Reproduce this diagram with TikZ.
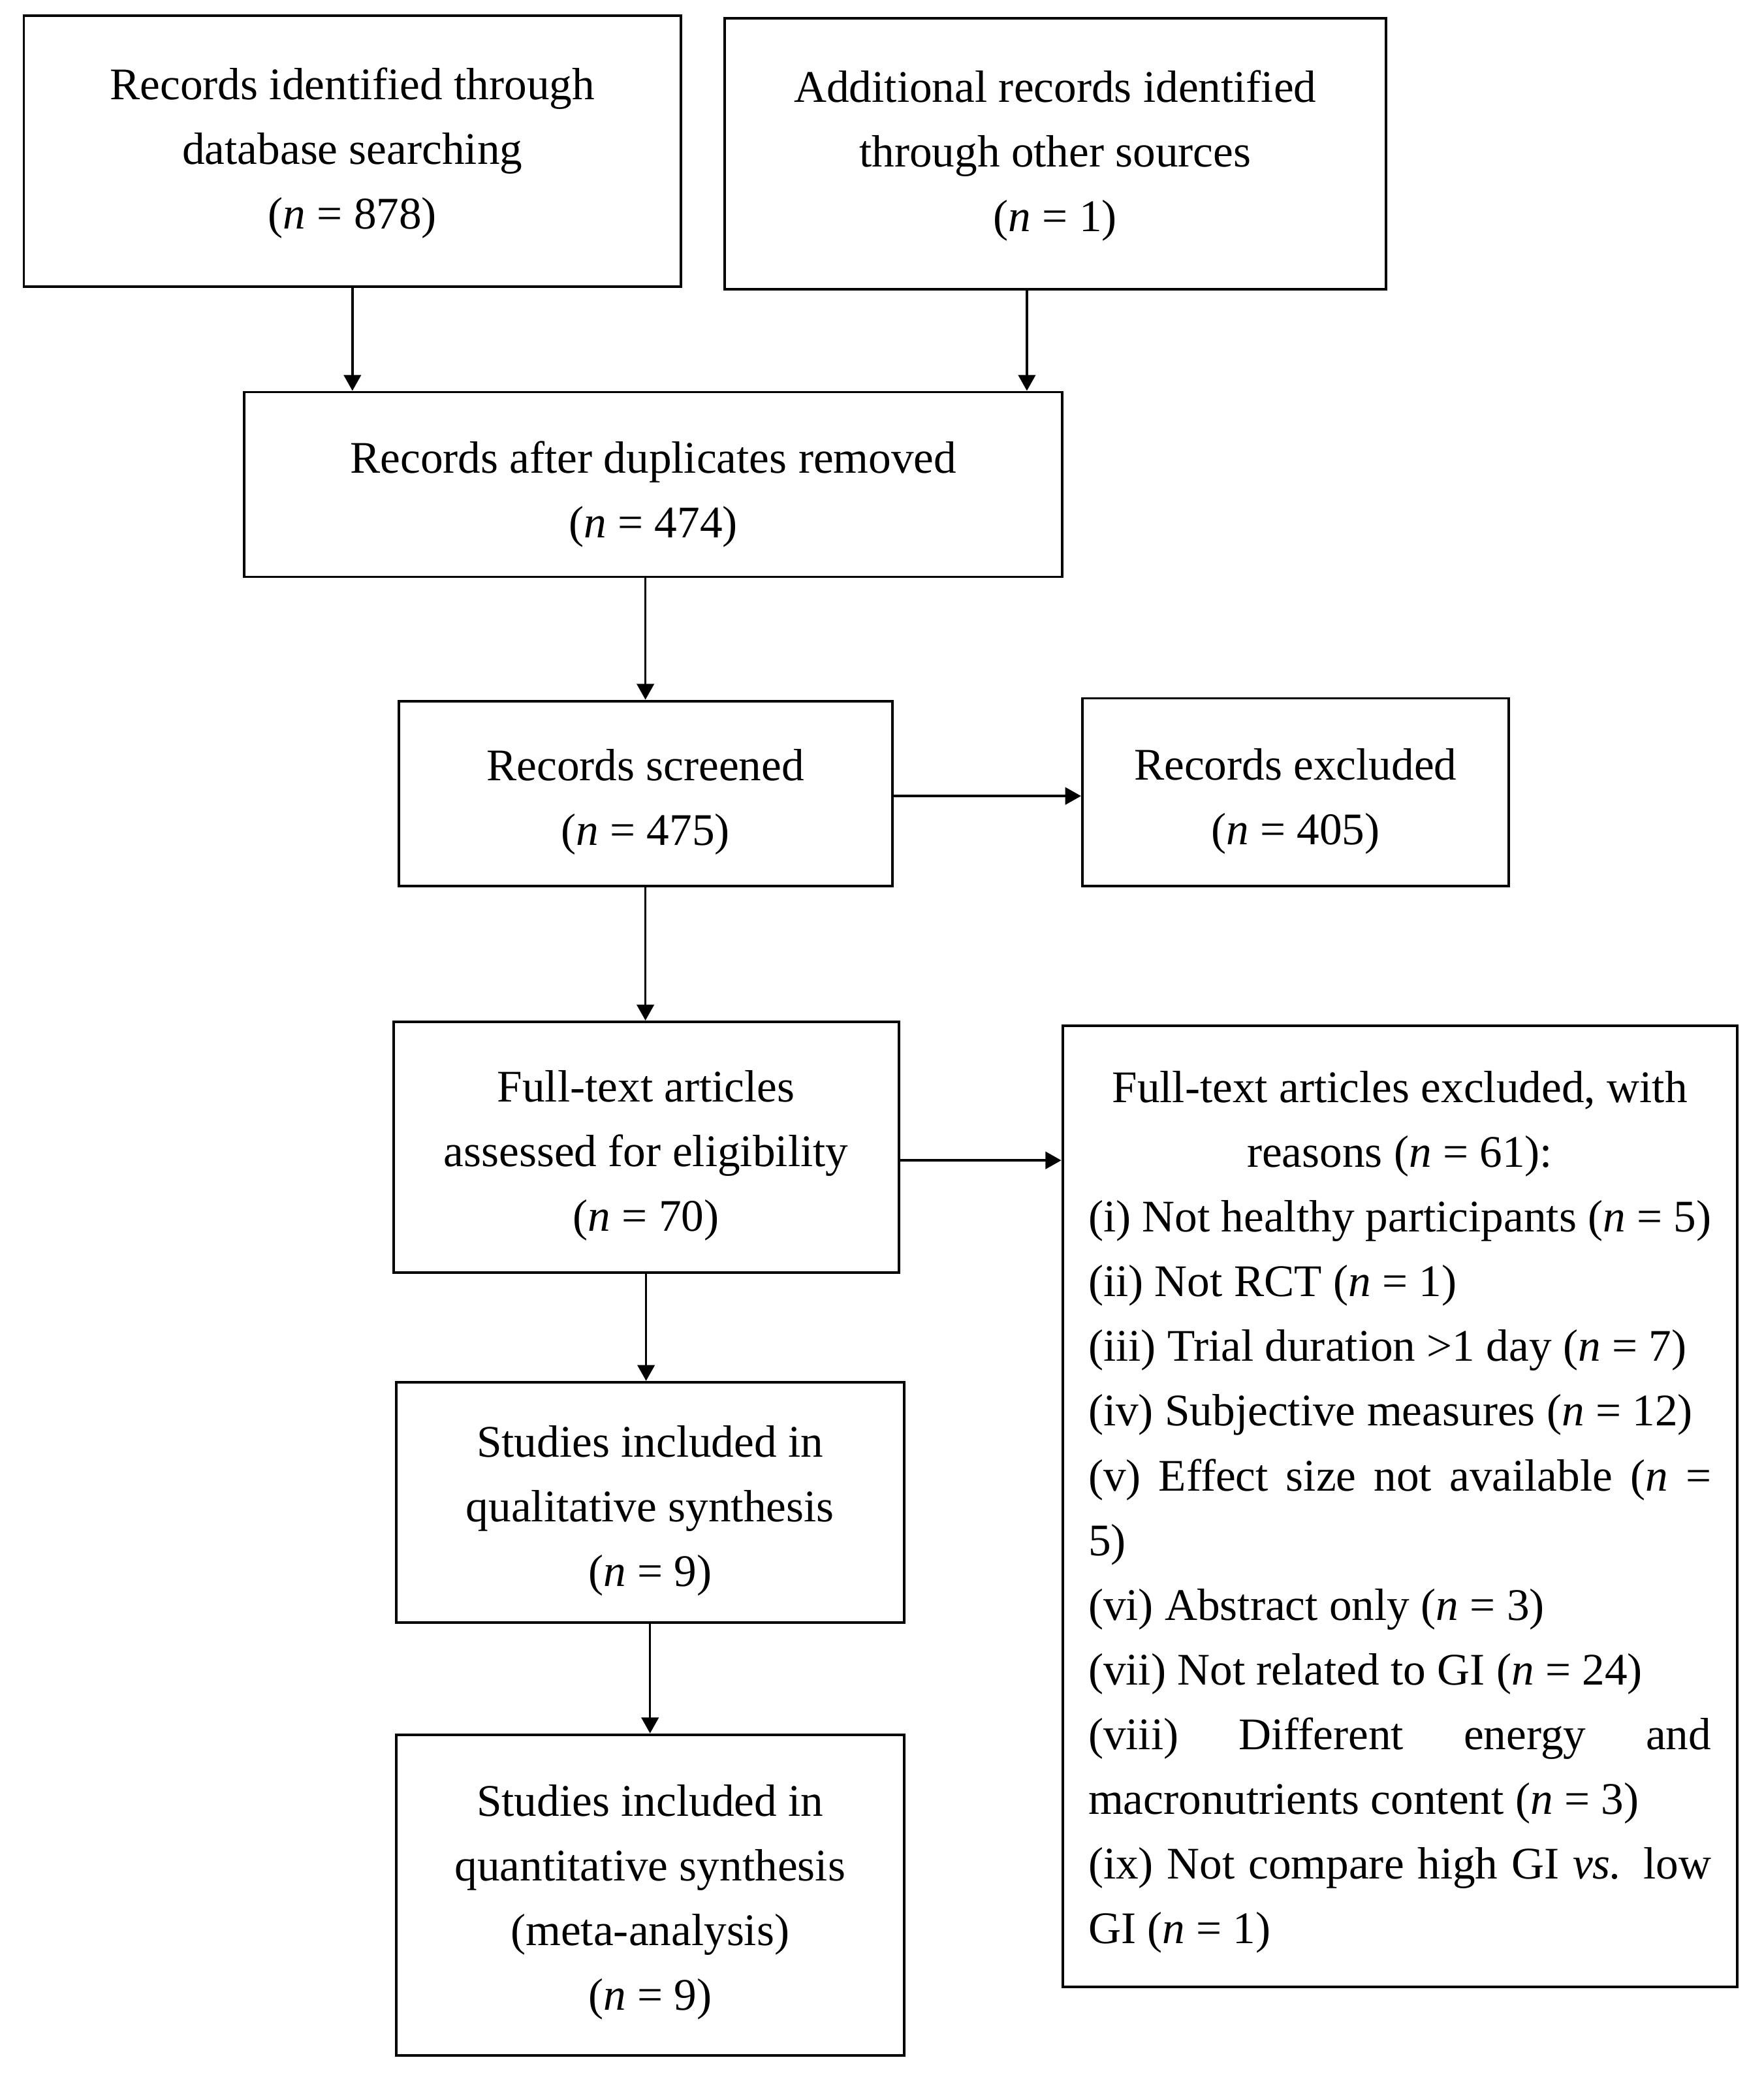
\documentclass[tikz,border=0pt]{standalone}
\usepackage{fontspec}
\setmainfont{Liberation Serif}
\usetikzlibrary{arrows.meta,calc}
\newcommand{\boxtext}[2]{\raisebox{-#1}[\height][\depth]{\begin{tabular}{@{}c@{}}#2\end{tabular}}}
\tikzset{
  box/.style={draw, line width=1.1pt, inner sep=0pt, align=center,
    font=\fontsize{19.5}{27.9}\selectfont},
  arr/.style={line width=1pt, -{Triangle[width=0.26cm,length=0.24cm]}}
}
\begin{document}
\begin{tikzpicture}[x=0.02cm,y=-0.02cm]
\useasboundingbox (0,0) rectangle (1336,1573.4);
\node[box, minimum width=9.96cm, minimum height=4.10cm] (b1) at (267,114.5)
  {\boxtext{0cm}{Records identified through\\database searching\\(\textit{n} = 878)}};
\node[box, minimum width=10.02cm, minimum height=4.10cm] (b2) at (799.5,116.5)
  {\boxtext{0cm}{Additional records identified\\through other sources\\(\textit{n} = 1)}};
\node[box, minimum width=12.4cm, minimum height=2.8cm] (b3) at (495,367)
  {\boxtext{0.12cm}{Records after duplicates removed\\(\textit{n} = 474)}};
\node[box, minimum width=7.48cm, minimum height=2.8cm] (b4) at (489,601)
  {\boxtext{0.10cm}{Records screened\\(\textit{n} = 475)}};
\node[box, minimum width=6.46cm, minimum height=2.84cm] (b5) at (981.5,600)
  {\boxtext{0.11cm}{Records excluded\\(\textit{n} = 405)}};
\node[box, minimum width=7.66cm, minimum height=3.8cm] (b6) at (489.5,869)
  {\boxtext{0.10cm}{Full-text articles\\assessed for eligibility\\(\textit{n} = 70)}};
\node[box, minimum width=10.22cm, minimum height=14.56cm] (b7) at (1060.5,1141)
  {\raisebox{-0.09cm}[\height][\depth]{\begin{minipage}{9.44cm}\fontsize{19.5}{27.9}\selectfont
  {\centering Full-text articles excluded, with\\reasons (\textit{n} = 61):\par}
  {\raggedright
  (i) Not healthy participants (\textit{n} = 5)\\
  (ii) Not RCT (\textit{n} = 1)\\
  (iii) Trial duration >1 day (\textit{n} = 7)\\
  (iv) Subjective measures (\textit{n} = 12)\\
  \makebox[\linewidth][s]{(v) Effect size not available (\textit{n} =}\\
  5)\\
  (vi) Abstract only (\textit{n} = 3)\\
  (vii) Not related to GI (\textit{n} = 24)\\
  \makebox[\linewidth][s]{(viii) Different energy and}\\
  macronutrients content (\textit{n} = 3)\\
  \makebox[\linewidth][s]{(ix) Not compare high GI \textit{vs.} low}\\
  GI (\textit{n} = 1)\par}
  \end{minipage}}};
\node[box, minimum width=7.7cm, minimum height=3.64cm] (b8) at (492.5,1138)
  {\boxtext{0.10cm}{Studies included in\\qualitative synthesis\\(\textit{n} = 9)}};
\node[box, minimum width=7.7cm, minimum height=4.86cm] (b9) at (492.5,1435.5)
  {\boxtext{0.08cm}{Studies included in\\quantitative synthesis\\(meta-analysis)\\(\textit{n} = 9)}};
\draw[arr] (b1.south) -- (b1.south |- b3.north);
\draw[arr] ([xshift=-0.43cm]b2.south) -- ([xshift=-0.43cm]b2.south |- b3.north);
\draw[arr] (b3.south -| b4.north) -- (b4.north);
\draw[arr] ([yshift=-0.04cm]b4.east) -- ([yshift=-0.04cm]b4.east -| b5.west);
\draw[arr] (b4.south) -- (b4.south |- b6.north);
\draw[arr] ([yshift=-0.2cm]b6.east) -- ([yshift=-0.2cm]b6.east -| b7.west);
\draw[arr] (b6.south) -- (b6.south |- b8.north);
\draw[arr] (b8.south) -- (b8.south |- b9.north);
\end{tikzpicture}
\end{document}
